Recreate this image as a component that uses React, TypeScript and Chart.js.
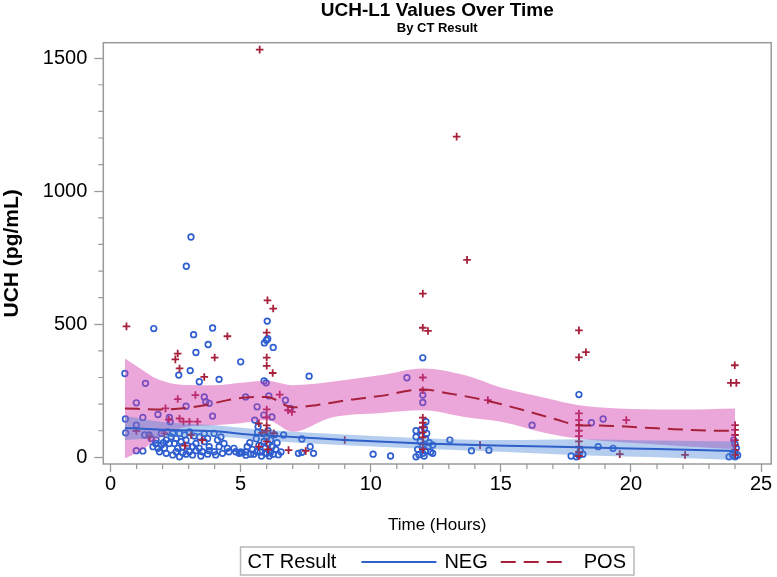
import React, { useEffect, useRef } from "react";
import { Chart, registerables } from "chart.js";

Chart.register(...registerables);

const FONT = "'Liberation Sans', Arial, Helvetica, sans-serif";
const NEG_COLOR = "#2E5ED0";
const NEG_LINE = "#2F5FC8";
const POS_COLOR = "#A6203B";
const NEG_BAND = "rgba(70,130,215,0.40)";
const POS_BAND = "rgba(210,60,170,0.45)";
const AXIS_COLOR = "#9a9a9a";

const titleText = "UCH-L1 Values Over Time";
const subtitleText = "By CT Result";
const xTitle = "Time (Hours)";
const yTitle = "UCH (pg/mL)";
const legendTitle = "CT Result";
const groupLabels = ["NEG", "POS"];

const xTicks = [0, 5, 10, 15, 20, 25];
const yTicks = [0, 500, 1000, 1500];
const xMinorTicks = [1, 2, 3, 4, 6, 7, 8, 9, 11, 12, 13, 14, 16, 17, 18, 19, 21, 22, 23, 24];
const yMinorTicks = [100, 200, 300, 400, 600, 700, 800, 900, 1100, 1200, 1300, 1400];

// CT NEG observations
const negTime = [
  3.09, 2.91, 1.66, 3.19, 3.92, 3.75, 3.28, 5.0, 3.06, 2.62, 0.55, 4.17, 1.34, 3.41, 3.6, 3.66, 3.79, 0.99, 2.9, 1.24,
  1.82, 0.57, 3.92, 0.58, 0.99, 0.99, 1.24, 2.26, 2.29, 5.19, 5.63,
  6.02, 5.91, 5.99, 6.04, 6.25, 5.9, 5.98, 6.08, 5.89, 6.2, 5.54, 5.67, 6.72, 6.91, 6.65, 7.35, 7.63, 7.67, 7.22, 7.35, 7.8,
  5.35, 5.45, 5.5, 5.6, 5.7, 5.75, 5.8, 5.85, 5.9, 5.95, 6.0, 6.0, 6.05, 6.05, 6.1, 6.1, 6.15, 6.2, 6.25, 6.3, 6.35, 6.4, 6.45, 6.55, 5.65, 5.25, 5.2, 5.0,
  1.75, 1.95, 2.14, 2.33, 2.45, 2.58, 2.77, 2.9, 3.03, 3.28, 3.41, 3.6, 3.79, 3.98, 4.17, 4.36, 4.55, 4.74, 4.94, 5.19,
  1.88, 2.14, 2.39, 2.65, 2.9, 3.15, 3.47, 3.73, 4.04, 4.3, 1.63, 1.82, 2.07, 2.52, 2.71, 2.96, 3.15, 2.26, 2.03, 1.73,
  1.56, 1.48, 1.31, 1.95, 2.2, 2.39, 2.65, 2.84, 3.03, 3.22, 3.41, 3.6, 3.73, 3.98, 4.11, 4.24, 2.52, 2.77, 3.28, 3.53,
  3.79, 4.49, 4.81, 5.06, 5.38, 5.63, 5.95, 6.14,
  11.39, 12.0, 12.0, 12.0, 11.74, 11.93, 12.06, 12.12, 12.38, 13.04, 13.87, 14.54, 10.09, 10.76, 11.74, 12.38, 11.8, 11.9, 11.95, 12.0,
  12.0, 12.05, 12.1, 12.1, 12.15, 12.2, 11.85, 12.25, 12.3, 11.74,
  16.2, 18.0, 18.48, 18.93, 18.74, 19.31, 17.7, 17.9, 18.15, 18.05, 18.0,
  23.77, 24.0, 23.9, 24.0, 24.05, 24.0, 23.95, 24.1, 24.0,
];
const negUch = [
  828, 718, 484, 461, 486, 424, 394, 359, 326, 309, 315, 293, 278, 284, 227, 209, 203, 205, 192, 150,
  161, 144, 155, 92, 121, 25, 24, 150, 134, 227, 190,
  512, 430, 440, 446, 413, 287, 280, 231, 159, 152, 140, 115, 215, 184, 84, 69, 305, 40, 15, 19, 15,
  55, 30, 12, 70, 45, 20, 5, 90, 60, 35, 15, 75, 50, 100, 25, 5, 65, 40, 12, 85, 30, 55, 10, 20, 95, 40, 8, 20,
  65, 46, 65, 77, 52, 34, 40, 65, 21, 52, 34, 59, 40, 21, 40, 52, 21, 34, 15, 21,
  21, 15, 9, 2, 12, 9, 5, 12, 9, 15, 40, 34, 34, 71, 59, 44, 40, 52, 55, 52,
  71, 84, 84, 90, 96, 90, 90, 84, 96, 80, 77, 90, 71, 90, 65, 77, 21, 17, 25, 21,
  25, 34, 21, 17, 12, 21, 15, 17,
  299, 374, 234, 206, 100, 102, 109, 134, 46, 65, 25, 27, 12, 5, 2, 15, 30, 60, 80, 15,
  45, 5, 25, 70, 90, 40, 10, 55, 20, 77,
  121, 236, 130, 144, 40, 34, 5, 2, 12, 25, 8,
  2, 2, 10, 20, 35, 50, 65, 8, 4,
];

// CT POS observations
const posTime = [
  5.73, 13.3, 13.7, 12.0, 12.0, 12.2, 0.61, 2.58, 2.49, 2.65, 3.6, 4.49, 4.0, 2.58, 3.26, 3.34, 3.03, 2.8, 2.24, 2.11,
  2.65, 0.99, 1.5, 3.53, 2.86, 3.09, 2.07,
  6.03, 6.25, 6.0, 6.0, 6.0, 6.23, 6.5, 6.97, 6.82, 6.84, 7.5, 5.7, 5.7, 5.82, 6.27, 6.0, 6.0, 6.0, 6.0, 6.0, 6.05,
  9.0, 12.0, 12.0, 12.0, 12.0, 12.0, 12.0, 12.0, 12.0, 12.0, 14.5, 14.2,
  18.0, 18.0, 18.27, 18.0, 18.0, 18.0, 18.0, 18.0, 18.0, 18.0, 18.0, 18.0, 19.82, 19.57, 22.08,
  23.99, 23.84, 24.05, 24.0, 24.0, 24.0, 24.0, 24.0, 24.0, 24.0,
];
const posUch = [
  1532, 1205, 742, 615, 487, 475, 492, 390, 368, 334, 302, 455, 375, 219, 234, 134, 134, 134, 142, 184,
  146, 99, 77, 65, 44, 84, 90,
  590, 559, 469, 375, 344, 317, 236, 171, 177, 27, 24, 128, 40, 92, 90, 180, 150, 120, 100, 60, 30,
  65, 300, 252, 149, 130, 113, 94, 75, 50, 31, 215, 46,
  477, 376, 395, 165, 140, 120, 100, 80, 60, 40, 20, 5, 140, 12, 9,
  346, 280, 280, 121, 103, 84, 65, 46, 27, 9,
];

// Smoothed fits with confidence bands
const negFitTime = [0.55, 2.0, 4.0, 5.3, 6.0, 7.35, 9.0, 12.0, 15.2, 18.0, 21.0, 24.0];
const negFit = [110, 104, 98, 86, 82, 75, 65, 52, 44, 38, 31, 24];
const negBandTime = [0.55, 2.0, 4.0, 6.0, 9.0, 12.0, 15.0, 18.0, 21.0, 24.0];
const negLower = [65, 75, 77, 62, 45, 32, 21, 8, 0, -10];
const negUpper = [155, 133, 121, 103, 86, 72, 65, 68, 63, 60];

const posFitTime = [0.55, 2.0, 3.5, 4.5, 5.2, 6.0, 7.0, 7.9, 9.1, 10.4, 12.0, 13.0, 14.2, 15.2, 16.1, 17.1, 18.0, 19.0, 21.0, 23.5, 24.0];
const posFit = [184, 180, 194, 215, 225, 227, 188, 196, 215, 231, 255, 240, 219, 195, 171, 143, 121, 119, 109, 100, 100];
const posBandTime = [0.55, 1.2, 1.75, 2.4, 3.0, 4.0, 5.0, 6.0, 7.0, 8.5, 10.4, 12.0, 13.6, 15.0, 16.8, 18.0, 20.0, 22.0, 24.0];
const posUpper = [371, 330, 296, 277, 272, 271, 280, 288, 271, 284, 309, 334, 309, 262, 221, 196, 182, 180, 184];
const posLower = [-4, 27, 65, 100, 115, 121, 128, 140, 96, 150, 167, 177, 152, 134, 90, 70, 55, 42, 30];

const pts = (xs: number[], ys: number[]) => xs.map((x, i) => ({ x, y: ys[i] }));

const framePlugin = {
  id: "frameAndMinorTicks",
  afterDraw(chart: any) {
    const { ctx, chartArea: a, scales } = chart;
    ctx.save();
    ctx.strokeStyle = AXIS_COLOR;
    ctx.lineWidth = 1.5;
    ctx.strokeRect(a.left, a.top, a.right - a.left, a.bottom - a.top);
    ctx.lineWidth = 1.2;
    ctx.beginPath();
    for (const v of xMinorTicks) {
      const px = scales.x.getPixelForValue(v);
      ctx.moveTo(px, a.bottom);
      ctx.lineTo(px, a.bottom + 5);
    }
    for (const v of yMinorTicks) {
      const py = scales.y.getPixelForValue(v);
      ctx.moveTo(a.left - 5, py);
      ctx.lineTo(a.left, py);
    }
    ctx.stroke();
    ctx.restore();
  },
};

const legendPlugin = {
  id: "ctLegend",
  afterDraw(chart: any) {
    const { ctx, chartArea: a } = chart;
    ctx.save();
    ctx.font = `20px ${FONT}`;
    const wTitle = ctx.measureText(legendTitle).width;
    const wNeg = ctx.measureText(groupLabels[0]).width;
    const wPos = ctx.measureText(groupLabels[1]).width;
    const padL = 7, gap1 = 25, lineLen = 75, gap2 = 8, gap3 = 13, dashLen = 62, gap4 = 21, padR = 8;
    const total = padL + wTitle + gap1 + lineLen + gap2 + wNeg + gap3 + dashLen + gap4 + wPos + padR;
    const cx = (a.left + a.right) / 2;
    const left = cx - total / 2;
    const top = chart.height - 30;
    const h = 28;
    ctx.strokeStyle = "#b8b8b8";
    ctx.lineWidth = 1.5;
    ctx.strokeRect(left, top, total, h);
    const cy = top + h / 2 + 1;
    ctx.fillStyle = "#000";
    ctx.textBaseline = "middle";
    ctx.textAlign = "left";
    let x = left + padL;
    ctx.fillText(legendTitle, x, cy);
    x += wTitle + gap1;
    ctx.strokeStyle = NEG_LINE;
    ctx.lineWidth = 2;
    ctx.beginPath();
    ctx.moveTo(x, cy);
    ctx.lineTo(x + lineLen, cy);
    ctx.stroke();
    x += lineLen + gap2;
    ctx.fillText(groupLabels[0], x, cy);
    x += wNeg + gap3;
    ctx.strokeStyle = POS_COLOR;
    ctx.setLineDash([15, 8]);
    ctx.beginPath();
    ctx.moveTo(x, cy);
    ctx.lineTo(x + dashLen, cy);
    ctx.stroke();
    ctx.setLineDash([]);
    x += dashLen + gap4;
    ctx.fillText(groupLabels[1], x, cy);
    ctx.restore();
  },
};

export default function App() {
  const ref = useRef<HTMLCanvasElement | null>(null);

  useEffect(() => {
    if (!ref.current) return;
    Chart.defaults.font.family = FONT;
    const bandLine = { borderWidth: 0, pointRadius: 0, cubicInterpolationMode: "monotone" as const };
    const chart = new Chart(ref.current, {
      type: "line",
      data: {
        datasets: [
          {
            type: "scatter",
            label: "NEG points",
            data: pts(negTime, negUch),
            pointStyle: "circle",
            pointRadius: 2.8,
            pointBorderWidth: 1.7,
            borderColor: NEG_COLOR,
            backgroundColor: "rgba(0,0,0,0)",
            order: 9,
          },
          {
            type: "scatter",
            label: "POS points",
            data: pts(posTime, posUch),
            pointStyle: "cross",
            pointRadius: 3.8,
            pointBorderWidth: 1.8,
            borderColor: POS_COLOR,
            backgroundColor: POS_COLOR,
            order: 8,
          },
          {
            type: "line",
            label: "POS lower",
            data: pts(posBandTime, posLower),
            ...bandLine,
            fill: false,
            order: 6,
          },
          {
            type: "line",
            label: "POS upper",
            data: pts(posBandTime, posUpper),
            ...bandLine,
            fill: "-1",
            backgroundColor: POS_BAND,
            order: 6,
          },
          {
            type: "line",
            label: "NEG lower",
            data: pts(negBandTime, negLower),
            ...bandLine,
            fill: false,
            order: 5,
          },
          {
            type: "line",
            label: "NEG upper",
            data: pts(negBandTime, negUpper),
            ...bandLine,
            fill: "-1",
            backgroundColor: NEG_BAND,
            order: 5,
          },
          {
            type: "line",
            label: "NEG",
            data: pts(negFitTime, negFit),
            borderColor: NEG_LINE,
            borderWidth: 2,
            pointRadius: 0,
            fill: false,
            cubicInterpolationMode: "monotone",
            order: 2,
          },
          {
            type: "line",
            label: "POS",
            data: pts(posFitTime, posFit),
            borderColor: POS_COLOR,
            borderWidth: 2,
            borderDash: [15, 8],
            pointRadius: 0,
            fill: false,
            cubicInterpolationMode: "monotone",
            order: 1,
          },
        ],
      },
      options: {
        responsive: false,
        animation: false,
        devicePixelRatio: 1,
        layout: { padding: { top: 0, left: 0, right: 1, bottom: 37 } },
        scales: {
          x: {
            type: "linear",
            min: -0.28,
            max: 25.39,
            afterBuildTicks: (s: any) => {
              s.ticks = xTicks.map((v) => ({ value: v }));
            },
            afterFit: (s: any) => {
              s.height = 76;
              s.paddingLeft = 0;
              s.paddingRight = 0;
            },
            grid: { drawOnChartArea: false, drawTicks: true, tickLength: 8, tickColor: AXIS_COLOR, tickWidth: 1.3 },
            border: { display: false },
            ticks: {
              font: { family: FONT, size: 20 },
              color: "#000",
              padding: 0,
              maxRotation: 0,
              autoSkip: false,
              callback: (v: any) => String(v),
            },
            title: {
              display: true,
              text: xTitle,
              color: "#000",
              font: { family: FONT, size: 17 },
              padding: { top: 0, bottom: 4.8 },
            },
          },
          y: {
            type: "linear",
            min: -25,
            max: 1558,
            afterBuildTicks: (s: any) => {
              s.ticks = yTicks.map((v) => ({ value: v }));
            },
            afterFit: (s: any) => {
              s.width = 103.3;
              s.paddingTop = 0;
              s.paddingBottom = 0;
            },
            grid: { drawOnChartArea: false, drawTicks: true, tickLength: 9, tickColor: AXIS_COLOR, tickWidth: 1.3 },
            border: { display: false },
            ticks: {
              font: { family: FONT, size: 20 },
              color: "#000",
              padding: 7,
              callback: (v: any) => String(v),
            },
            title: {
              display: true,
              text: yTitle,
              color: "#000",
              font: { family: FONT, size: 21, weight: "bold" },
              padding: { top: 0, bottom: 0 },
            },
          },
        },
        plugins: {
          legend: { display: false },
          tooltip: { enabled: false },
          title: {
            display: true,
            text: titleText,
            fullSize: false,
            color: "#000",
            font: { family: FONT, size: 19, weight: "bold", lineHeight: 1.1 },
            padding: { top: 0, bottom: 0 },
          },
          subtitle: {
            display: true,
            text: subtitleText,
            fullSize: false,
            color: "#000",
            font: { family: FONT, size: 13, weight: "bold", lineHeight: 1.2 },
            padding: { top: 0, bottom: 6.2 },
          },
        },
      },
      plugins: [framePlugin, legendPlugin],
    } as any);
    return () => chart.destroy();
  }, []);

  return (
    <div style={{ position: "fixed", left: 0, top: 0, width: 777, height: 577, background: "#fff" }}>
      <canvas ref={ref} width={777} height={577} style={{ display: "block", width: 777, height: 577 }} />
    </div>
  );
}
